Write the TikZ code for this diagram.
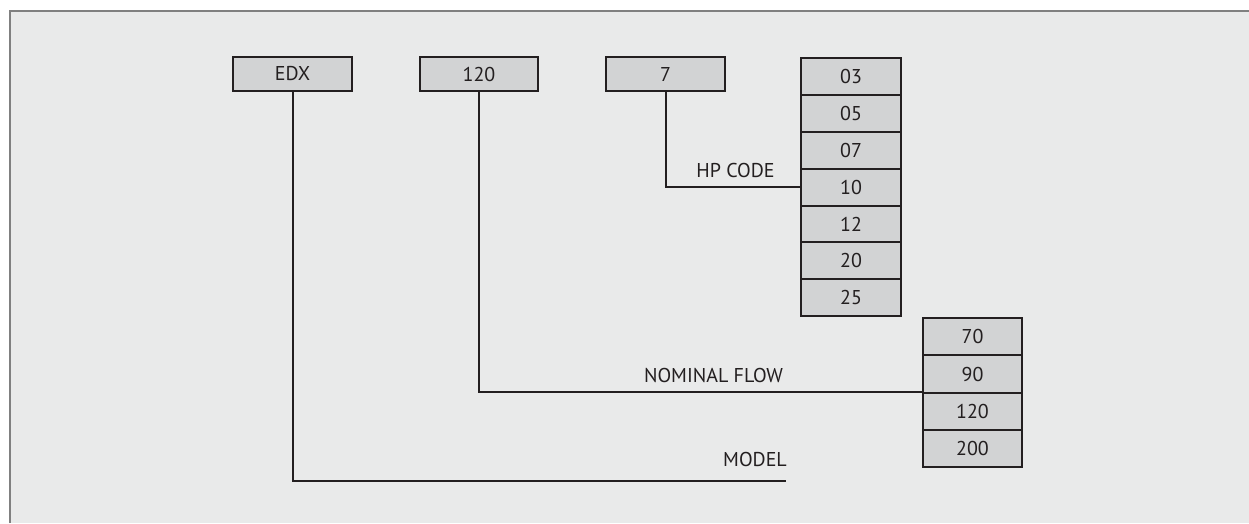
\documentclass[tikz,border=0pt]{standalone}
\usepackage{fontspec}
\setmainfont{PT Sans}
\usetikzlibrary{positioning}
\definecolor{panel}{HTML}{E9EAEA}
\definecolor{cell}{HTML}{D2D3D4}
\definecolor{ink}{HTML}{231F20}
\definecolor{rim}{HTML}{808080}
\tikzset{
	codebox/.style={draw=ink, fill=cell, line width=2pt, minimum width=119pt, minimum height=34pt, inner sep=0pt, text=ink, font=\fontsize{20}{22}\selectfont},
	cellbox/.style={codebox, minimum width=100pt, minimum height=36.8pt},
	wire/.style={draw=ink, line width=2pt},
	tag/.style={text=ink, inner sep=0pt, font=\fontsize{20}{22}\selectfont}
}

\begin{document}
\begin{tikzpicture}[x=1pt, y=-1pt]
			%%%%% START %%%%%
			\useasboundingbox (0, 0) rectangle (1249, 523);
			
			\fill[panel] (10, 10.5) rectangle (1249, 523);
			\draw[rim, line width=2pt] (10, 523) -- (10, 10.5) -- (1249, 10.5);
			
			\node[codebox] (edx) at (292.5, 74) {EDX};
			\node[codebox, minimum width=118pt] (flow) at (479, 74) {120};
			\node[codebox] (hp) at (665.5, 74) {7};
			
			\node[cellbox] (h03) at (851, 76.7) {03};
			\node[cellbox] (h05) at (851, 113.5) {05};
			\node[cellbox] (h07) at (851, 150.3) {07};
			\node[cellbox] (h10) at (851, 187.1) {10};
			\node[cellbox] (h12) at (851, 223.9) {12};
			\node[cellbox] (h20) at (851, 260.7) {20};
			\node[cellbox] (h25) at (851, 297.5) {25};
			
			\node[cellbox, minimum width=99pt, minimum height=37.1pt] (f70) at (972.5, 336.9) {70};
			\node[cellbox, minimum width=99pt, minimum height=37.1pt] (f90) at (972.5, 374) {90};
			\node[cellbox, minimum width=99pt, minimum height=37.1pt] (f120) at (972.5, 411.1) {120};
			\node[cellbox, minimum width=99pt, minimum height=37.1pt] (f200) at (972.5, 448.2) {200};
			
			\coordinate (modelend) at (786, 481);
			
			\draw[wire] (hp.south) |- (h10.west);
			\draw[wire] (flow.south) |- (f120.north west);
			\draw[wire] (edx.south) |- (modelend);
			
			\node[tag] (hplabel) at (735.5, 170) {HP CODE};
			\node[tag] (flowlabel) at (713.5, 375) {NOMINAL FLOW};
			\node[tag] (modellabel) at (755, 459.5) {MODEL};
			
			%%%%% END %%%%%
\end{tikzpicture}
\end{document}
